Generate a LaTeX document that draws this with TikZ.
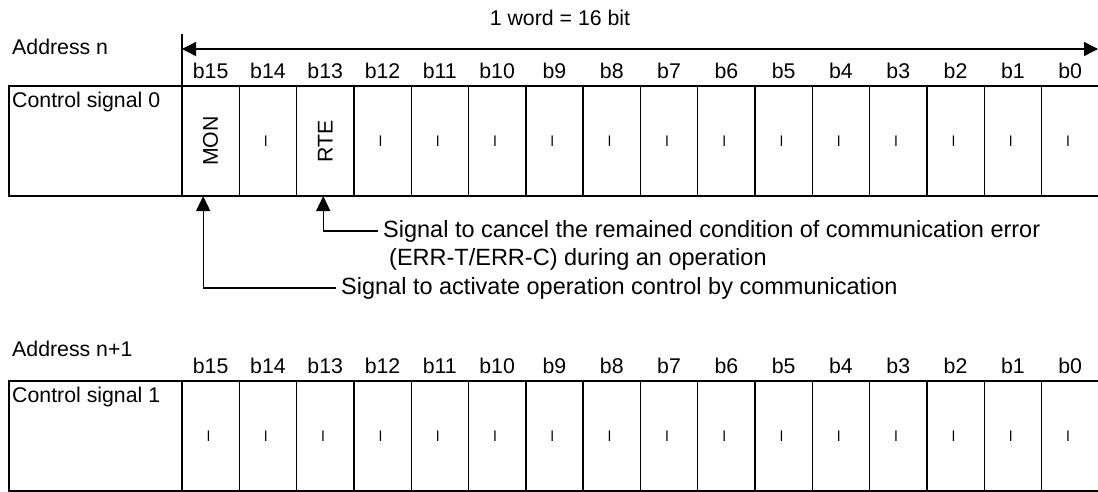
\documentclass[tikz,border=0pt]{standalone}
\usepackage{fontspec}
\setmainfont{Liberation Sans}
\usetikzlibrary{arrows.meta}
\begin{document}
\begin{tikzpicture}[x=1pt,y=-1pt,
  every node/.style={font=\fontsize{21.3}{26}\selectfont, inner sep=0pt},
  cellbox/.style={draw, line width=1.4pt, minimum width=57.3pt, minimum height=110pt, outer sep=0pt},
  lblbox/.style={draw, line width=1.4pt, minimum width=173pt, minimum height=110pt, outer sep=0pt},
  txt/.style={anchor=base west},
  bitlbl/.style={anchor=base},
  note/.style={anchor=base west, inner xsep=5pt, font=\fontsize{23.5}{28}\selectfont},
  conn/.style={line width=1.2pt, -{Triangle[length=15pt,width=14pt]}},
  dashmark/.style={rotate=90, font=\fontsize{19}{22}\selectfont},
]
\useasboundingbox (0,0) rectangle (1098,492);

% ---------- word width arrow ----------
\node[anchor=base] (word) at (560,26) {1 word = 16 bit};
\coordinate (wl) at (182,49);
\coordinate (wr) at (1098,49);
\coordinate (tickt) at (182,34);
\coordinate (tickb) at (182,86);
\draw[line width=1.3pt] (tickt) -- (tickb);
\draw[line width=1.3pt, {Triangle[length=14pt,width=14pt]}-{Triangle[length=14pt,width=14pt]}] (wl) -- (wr);

% ---------- Address n ----------
\node[txt] (addr0) at (12,55) {Address n};
\node[lblbox] (al) at (95.5,141) {};
\node[txt] (altxt) at (12,108) {Control signal 0};
\foreach \k in {0,...,15} {
  \pgfmathsetmacro\cx{182+\k*57.3+28.65}
  \pgfmathtruncatemacro\b{15-\k}
  \node[cellbox] (a\k) at (\cx,141) {};
  \node[bitlbl] (ab\k) at (\cx,79) {b\b};
}
\node[rotate=90] (am0) at (a0) {MON};
\node[rotate=90] (am2) at (a2) {RTE};
\foreach \k in {1,3,4,5,6,7,8,9,10,11,12,13,14,15} {
  \node[dashmark] (am\k) at (a\k) {–};
}

% ---------- notes ----------
\node[note] (n1) at (378,237) {Signal to cancel the remained condition of communication error};
\node[note] (n1b) at (384,265) {(ERR-T/ERR-C) during an operation};
\node[note] (n2) at (336,294) {Signal to activate operation control by communication};
\draw[conn] (n1.west) -| ([xshift=-2pt]a2.south);
\draw[conn] (n2.west) -| ([xshift=-7.5pt]a0.south);

% ---------- Address n+1 ----------
\node[txt] (addr1) at (12,356) {Address n+1};
\node[lblbox] (bl) at (95.5,436) {};
\node[txt] (bltxt) at (12,402) {Control signal 1};
\foreach \k in {0,...,15} {
  \pgfmathsetmacro\cx{182+\k*57.3+28.65}
  \pgfmathtruncatemacro\b{15-\k}
  \node[cellbox] (b\k) at (\cx,436) {};
  \node[bitlbl] (bb\k) at (\cx,373) {b\b};
  \node[dashmark] (bm\k) at (b\k) {–};
}
\end{tikzpicture}
\end{document}
